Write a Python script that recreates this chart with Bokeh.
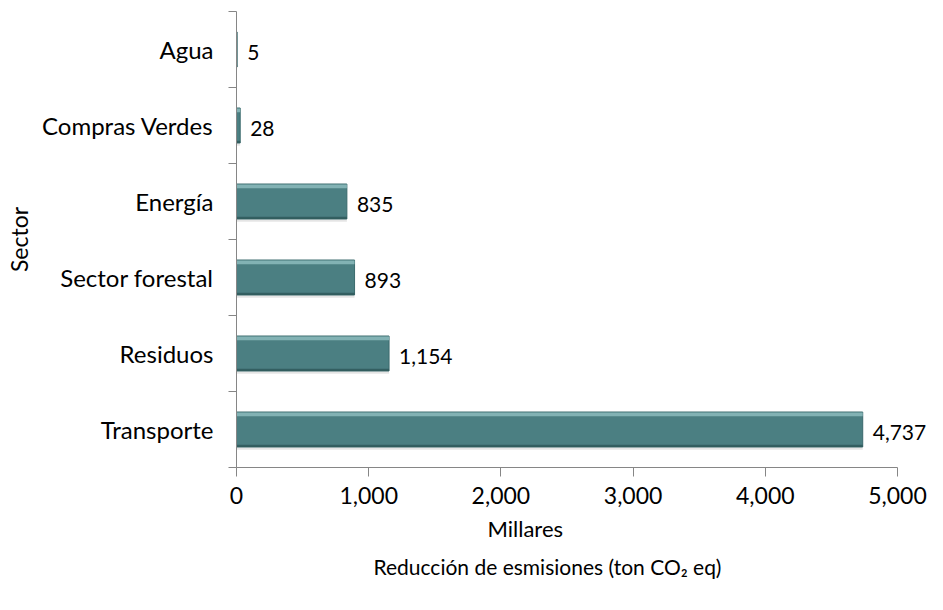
from bokeh.plotting import figure
from bokeh.models import (Range1d, FixedTicker, NumeralTickFormatter, ColumnDataSource, Title, LabelSet)
from bokeh.embed import file_html
from bokeh.resources import INLINE
from bokeh.core.properties import value

sectors = ["Transporte", "Residuos", "Sector forestal", "Energía", "Compras Verdes", "Agua"]
reductions = [4737, 1154, 893, 835, 28, 5]
x_ticks = [0, 1000, 2000, 3000, 4000, 5000]
x_axis_max = 5000

FONT = "Lato"
pos = [i + 0.5 for i in range(len(sectors))]
labels = ["{:,}".format(v) for v in reductions]
src = ColumnDataSource(dict(y=pos, v=reductions, lab=labels,
                            ytop=[p + 0.2 for p in pos], ybot=[p - 0.215 for p in pos],
                            ysh=[p - 0.03 for p in pos]))

# frame extends a little past 5,000 so that value labels are not clipped; axis line bounded at 5,000
p = figure(width=927, height=594, output_backend="svg", toolbar_location=None,
           x_range=Range1d(0, 5227), y_range=Range1d(0, len(sectors)),
           min_border_left=236, min_border_right=0, min_border_top=11, min_border_bottom=127)
p.outline_line_color = None
p.grid.grid_line_color = None
p.background_fill_color = "white"

# bars with shadow and bevel
p.hbar(y="ysh", left=0, right="v", height=0.47, source=src, fill_color="#000000", fill_alpha=0.10, line_color=None)
p.hbar(y="y", left=0, right="v", height=0.46, source=src, fill_color="#4b7f82", line_color="#3b6a6d", line_width=1)
p.hbar(y="ytop", left=0, right="v", height=0.05, source=src, fill_color="#88b8b9", fill_alpha=0.9, line_color=None)
p.hbar(y="ybot", left=0, right="v", height=0.03, source=src, fill_color="#2d5759", fill_alpha=0.8, line_color=None)

ls = LabelSet(x="v", y="y", text="lab", source=src, x_offset=10, y_offset=-3,
              text_font=value(FONT), text_font_size=value("21px"), text_color="#000000",
              text_align="left", text_baseline="middle")
p.add_layout(ls)

# y axis
ya = p.yaxis[0]
ya.ticker = FixedTicker(ticks=pos, minor_ticks=list(range(len(sectors) + 1)))
ya.major_label_overrides = {p_: s for p_, s in zip(pos, sectors)}
ya.major_tick_line_color = None
ya.major_tick_out = 0
ya.major_tick_in = 0
ya.minor_tick_out = 8
ya.minor_tick_in = 0
ya.minor_tick_line_color = "#868686"
ya.axis_line_color = "#868686"
ya.major_label_text_font = FONT
ya.major_label_text_font_size = "24px"
ya.major_label_text_color = "#000000"
ya.major_label_standoff = 15
ya.axis_label = "Sector"
ya.axis_label_text_font = FONT
ya.axis_label_text_font_size = "23px"
ya.axis_label_text_color = "#000000"
ya.axis_label_text_font_style = "normal"
ya.axis_label_standoff = 6

xa = p.xaxis[0]
xa.bounds = (0, x_axis_max)
xa.ticker = FixedTicker(ticks=x_ticks)
xa.formatter = NumeralTickFormatter(format="0,0")
xa.major_tick_out = 9
xa.major_tick_in = 0
xa.minor_tick_line_color = None
xa.major_tick_line_color = "#868686"
xa.axis_line_color = "#868686"
xa.major_label_text_font = FONT
xa.major_label_text_font_size = "23px"
xa.major_label_text_color = "#000000"
xa.major_label_standoff = 10

t1 = Title(text="Millares", align="left", offset=487 - 236, text_font=FONT,
           text_font_size="22px", text_font_style="normal", text_color="#000000", standoff=12)
p.add_layout(t1, "below")
t2 = Title(text="Reducción de esmisiones (ton CO₂ eq)", align="left", offset=373 - 236, text_font=FONT,
           text_font_size="21px", text_font_style="normal", text_color="#000000", standoff=8)
p.add_layout(t2, "below")

open("out.html", "w").write(file_html(p, INLINE))
